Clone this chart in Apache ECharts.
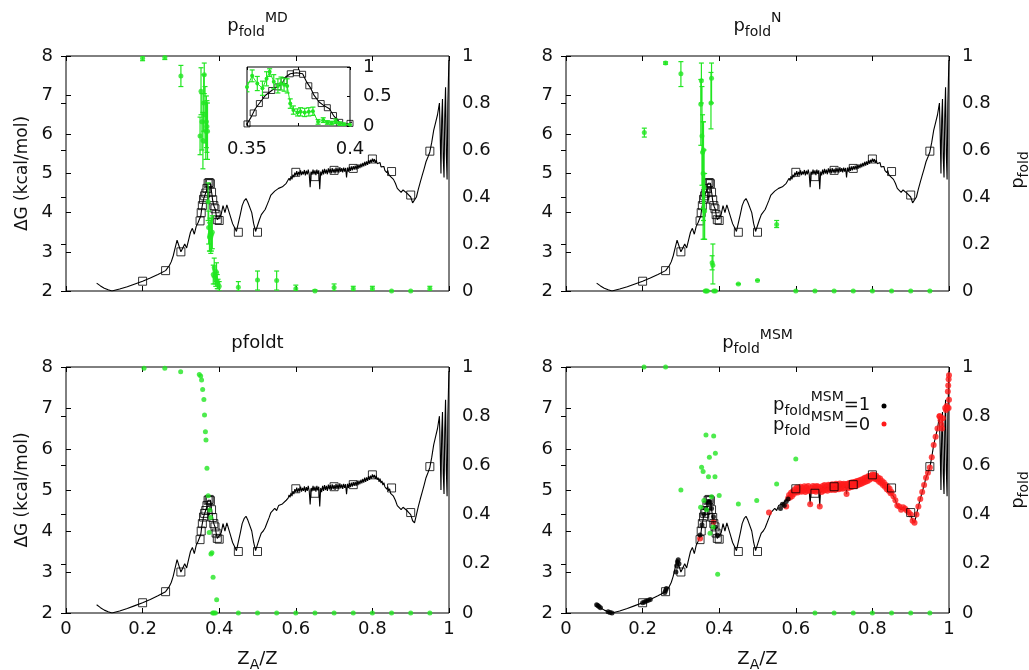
<!DOCTYPE html>
<html>
<head>
<meta charset="utf-8">
<script src="https://cdn.jsdelivr.net/npm/echarts@6/dist/echarts.min.js"></script>
<style>
  html, body { margin: 0; background: #fff; }
  #chart { width: 1029px; height: 670px; }
</style>
</head>
<body>
<div id="chart"></div>
<script>
// free energy profile dG(Z_A/Z), kcal/mol
const dG = [
  [0.08,2.2],[0.09,2.13],[0.1,2.07],[0.11,2.03],[0.12,2.0],[0.14,2.05],[0.16,2.11],[0.18,2.18],[0.2,2.25],
  [0.22,2.33],[0.24,2.42],[0.26,2.52],[0.27,2.65],[0.275,2.75],[0.28,2.9],[0.285,3.1],[0.29,3.3],[0.295,3.15],
  [0.3,3.0],[0.305,3.1],[0.31,3.2],[0.315,3.1],[0.32,3.3],[0.325,3.5],[0.33,3.6],[0.335,3.45],[0.34,3.65],
  [0.345,3.75],[0.35,3.79],[0.352,3.92],[0.354,4.08],[0.3565,4.21],[0.359,4.34],[0.362,4.43],[0.3646,4.5],
  [0.367,4.56],[0.3687,4.69],[0.371,4.75],[0.374,4.77],[0.377,4.75],[0.379,4.59],[0.381,4.47],[0.3825,4.34],
  [0.385,4.21],[0.387,4.15],[0.39,4.08],[0.392,3.95],[0.395,3.82],[0.397,3.78],[0.4,3.8],[0.405,3.95],
  [0.41,4.18],[0.415,4.0],[0.42,4.2],[0.425,4.18],[0.43,3.88],[0.435,3.72],[0.44,3.62],[0.445,3.52],[0.45,3.5],
  [0.455,3.95],[0.46,4.18],[0.465,4.3],[0.47,4.36],[0.475,4.26],[0.48,4.22],[0.485,4.0],[0.49,3.72],
  [0.495,3.52],[0.5,3.5],[0.505,3.82],[0.51,3.95],[0.515,4.0],[0.52,4.08],[0.525,4.2],[0.53,4.32],
  [0.535,4.45],[0.54,4.42],[0.545,4.55],[0.55,4.5],[0.555,4.62],[0.56,4.58],[0.565,4.66],[0.57,4.62],
  [0.575,4.75],[0.58,4.8],[0.5825,4.88],[0.585,4.82],[0.5875,4.93],[0.59,4.85],[0.5925,4.97],[0.595,4.9],
  [0.5975,5.02],[0.6,4.95],[0.6025,5.06],[0.605,4.94],[0.6075,5.04],[0.61,4.97],[0.6125,5.08],[0.615,4.96],
  [0.6175,5.05],[0.62,4.98],[0.6225,5.09],[0.625,4.95],[0.6275,5.07],[0.63,4.98],[0.6325,5.1],[0.635,4.98],
  [0.6375,4.65],[0.64,5.05],[0.6425,4.97],[0.645,5.1],[0.6475,4.98],[0.65,5.08],[0.6525,4.96],[0.655,5.1],
  [0.6575,4.99],[0.66,5.08],[0.6625,4.6],[0.665,5.05],[0.6675,4.95],[0.67,5.1],[0.6725,4.98],[0.675,5.12],
  [0.6775,5.0],[0.68,5.1],[0.6825,4.98],[0.685,5.13],[0.6875,5.02],[0.69,5.12],[0.6925,5.0],[0.695,5.14],
  [0.6975,5.02],[0.7,5.12],[0.7025,5.0],[0.705,5.15],[0.7075,5.03],[0.71,5.13],[0.7125,5.02],[0.715,5.16],
  [0.7175,5.04],[0.72,5.14],[0.7225,5.03],[0.725,5.15],[0.7275,5.05],[0.73,5.14],[0.7325,4.9],[0.735,5.15],
  [0.7375,5.05],[0.74,5.17],[0.7425,5.07],[0.745,5.18],[0.7475,5.08],[0.75,5.19],[0.7525,5.1],[0.755,5.2],
  [0.7575,5.1],[0.76,5.22],[0.7625,5.12],[0.765,5.23],[0.7675,5.14],[0.77,5.25],[0.7725,5.16],[0.775,5.27],
  [0.7775,5.18],[0.78,5.3],[0.7825,5.2],[0.785,5.31],[0.7875,5.22],[0.79,5.34],[0.7925,5.25],[0.795,5.35],
  [0.7975,5.28],[0.8,5.38],[0.8025,5.3],[0.805,5.37],[0.8075,5.27],[0.81,5.35],[0.8125,5.25],[0.815,5.3],
  [0.8175,5.2],[0.82,5.28],[0.8225,5.17],[0.825,5.22],[0.8275,5.12],[0.83,5.18],[0.8325,5.08],[0.835,5.12],
  [0.8375,5.02],[0.84,5.08],[0.8425,4.98],[0.845,5.03],[0.8475,4.92],[0.85,4.95],[0.855,4.85],[0.86,4.75],
  [0.865,4.62],[0.87,4.6],[0.875,4.52],[0.88,4.58],[0.885,4.55],[0.89,4.5],[0.895,4.45],[0.9,4.4],
  [0.905,4.25],[0.91,4.2],[0.915,4.4],[0.92,4.6],[0.925,4.78],[0.93,4.95],[0.935,5.12],[0.94,5.3],
  [0.945,5.42],[0.95,5.55],[0.955,5.8],[0.96,6.1],[0.965,6.3],[0.97,6.5],[0.975,6.8],[0.977,6.0],
  [0.979,5.0],[0.981,6.4],[0.983,6.9],[0.985,5.4],[0.987,4.9],[0.989,6.5],[0.991,7.2],[0.993,5.5],
  [0.995,4.85],[0.997,6.8],[0.999,7.6],[1.0,7.9]
];

// open squares on the profile
const squares = [
  [0.2,2.25],[0.26,2.52],[0.3,3.0],[0.35,3.79],[0.353,4.0],[0.356,4.18],[0.359,4.34],[0.362,4.43],
  [0.365,4.5],[0.368,4.62],[0.371,4.75],[0.374,4.77],[0.377,4.74],[0.38,4.52],[0.383,4.33],[0.386,4.18],
  [0.389,4.1],[0.392,3.95],[0.395,3.82],[0.4,3.8],[0.45,3.5],[0.5,3.5],[0.6,5.03],[0.65,4.92],
  [0.7,5.08],[0.75,5.13],[0.8,5.37],[0.85,5.05],[0.9,4.45],[0.95,5.57]
];

// pfold^MD : [x, p, low, high]
const pMD = [
  [0.2,0.99,0.98,1.0],[0.258,0.994,0.985,1.0],[0.3,0.915,0.87,0.96],
  [0.35,0.66,0.58,0.74],[0.3525,0.85,0.75,0.95],[0.355,0.72,0.6,0.84],[0.3575,0.64,0.52,0.76],
  [0.3595,0.8,0.68,0.92],[0.361,0.92,0.84,0.97],[0.363,0.75,0.63,0.87],[0.365,0.68,0.56,0.8],
  [0.3665,0.72,0.61,0.83],[0.368,0.7,0.59,0.81],[0.3695,0.68,0.56,0.8],[0.371,0.38,0.3,0.46],
  [0.3725,0.27,0.2,0.34],[0.3745,0.23,0.17,0.29],[0.376,0.24,0.17,0.31],[0.378,0.23,0.16,0.3],
  [0.38,0.24,0.17,0.31],[0.382,0.25,0.18,0.32],[0.3845,0.07,0.03,0.11],[0.387,0.1,0.06,0.14],
  [0.389,0.06,0.03,0.09],[0.391,0.05,0.02,0.08],[0.393,0.08,0.04,0.12],[0.395,0.04,0.01,0.07],
  [0.397,0.03,0.01,0.05],[0.4,0.02,0.0,0.04],[0.45,0.016,0.0,0.04],[0.5,0.047,0.004,0.085],
  [0.55,0.045,0.004,0.085],[0.6,0.01,0.0,0.025],[0.65,0.0,0.0,0.005],[0.7,0.015,0.0,0.03],
  [0.75,0.01,0.0,0.02],[0.8,0.01,0.0,0.02],[0.85,0.0,0.0,0.0],[0.9,0.0,0.0,0.0],[0.95,0.01,0.0,0.02]
];

// pfold^N : [x, p, low, high]
const pN = [
  [0.2045,0.674,0.655,0.693],[0.26,0.97,0.965,0.975],[0.3,0.925,0.87,0.976],
  [0.352,0.795,0.62,0.9],[0.3535,0.895,0.8,0.97],[0.355,0.66,0.45,0.87],[0.3565,0.59,0.35,0.75],
  [0.358,0.5,0.22,0.72],[0.359,0.6,0.3,0.72],[0.3605,0.44,0.22,0.6],[0.362,0.34,0.22,0.5],
  [0.3635,0.0,0.0,0.0],[0.366,0.0,0.0,0.0],[0.369,0.0,0.0,0.0],[0.3785,0.8,0.69,0.93],
  [0.38,0.905,0.8,0.97],[0.3815,0.12,0.09,0.15],[0.3835,0.11,0.03,0.2],[0.386,0.0,0.0,0.0],
  [0.39,0.0,0.0,0.0],[0.45,0.03,0.03,0.03],[0.5,0.045,0.045,0.045],[0.55,0.283,0.27,0.3],
  [0.6,0,0,0],[0.65,0,0,0],[0.7,0,0,0],[0.75,0,0,0],[0.8,0,0,0],[0.85,0,0,0],[0.9,0,0,0],[0.95,0,0,0]
];

// pfoldt : [x, p]
const pT = [
  [0.2037,0.995],[0.258,0.995],[0.2994,0.981],[0.348,0.97],[0.3516,0.963],[0.354,0.947],[0.3568,0.909],
  [0.36,0.868],[0.3617,0.805],[0.364,0.737],[0.3655,0.703],[0.368,0.588],[0.3712,0.477],[0.3755,0.419],
  [0.378,0.388],[0.374,0.327],[0.3785,0.24],[0.381,0.245],[0.384,0.145],[0.3934,0.054],[0.383,0],
  [0.386,0],[0.39,0],[0.45,0],[0.5,0],[0.55,0],[0.6,0],[0.65,0],[0.7,0],[0.75,0],[0.8,0],[0.85,0],
  [0.9,0],[0.95,0]
];

// pfold^MSM : [x, p]
const pMSM = [
  [0.2037,1.0],[0.26,1.0],[0.3,0.5],[0.3515,0.43],[0.354,0.592],[0.358,0.575],[0.36,0.457],
  [0.367,0.42],[0.3655,0.724],[0.372,0.554],[0.3743,0.633],[0.376,0.324],[0.38,0.473],[0.3856,0.72],
  [0.384,0.35],[0.39,0.649],[0.389,0.554],[0.396,0.158],[0.4,0.478],[0.45,0.443],[0.498,0.457],
  [0.55,0.524],[0.6,0.626],[0.65,0],[0.7,0],[0.75,0],[0.8,0],[0.85,0],[0.9,0],[0.95,0]
];

// MSM states with pfold^MSM = 1 (black) and = 0 (red), placed on the profile
const msmOne = [
  [0.08,2.2],[0.083,2.18],[0.086,2.16],[0.09,2.13],[0.11,2.03],[0.115,2.01],[0.12,2.0],
  [0.2,2.25],[0.205,2.27],[0.21,2.29],[0.215,2.31],[0.22,2.33],[0.258,2.5],[0.26,2.55],[0.262,2.6],
  [0.287,3.0],[0.289,3.15],[0.291,3.25],[0.293,3.3],[0.295,3.2],[0.35,3.9],[0.355,4.15],[0.36,4.4],
  [0.365,4.55],[0.37,4.72],[0.375,4.72],[0.38,4.55],[0.385,4.35],[0.39,4.1],[0.395,3.9],
  [0.56,4.55],[0.565,4.65],[0.57,4.62],[0.575,4.72],[0.58,4.78]
];
const msmZeroExtra = [
  [0.35,3.82],[0.385,4.22],[0.53,4.45],[0.575,4.6],[0.976,6.8],[0.978,6.7],[0.98,6.6],[0.982,6.5],
  [0.984,6.75],[0.99,7.0],[0.992,6.95],[0.994,7.05],[0.996,7.0],[0.997,7.4],[0.998,7.55],[0.999,7.7],
  [1.0,7.8],[0.999,7.0],[1.0,7.2]
];
const msmZero = dG.filter(p => p[0] >= 0.58 && p[0] <= 0.975).concat(msmZeroExtra);

const GREEN = '#22e622';
const FONT = 'DejaVu Sans';
const INK = '#111';

const grids = [
  { left: 66, top: 56, width: 383, height: 235 },
  { left: 566, top: 56, width: 383, height: 235 },
  { left: 66, top: 367, width: 383, height: 246 },
  { left: 566, top: 367, width: 383, height: 246 }
];
const inset = { left: 247, top: 67, width: 103, height: 59 };

const lbl = (show, margin) => ({ show, margin, fontSize: 18, fontFamily: FONT, color: INK });
const tick = (len) => ({ show: true, inside: true, length: len, lineStyle: { color: '#000', width: 1 } });

const xAxis = [], yAxis = [];
grids.forEach((g, i) => {
  xAxis[i] = { gridIndex: i, type: 'value', min: 0, max: 1, interval: 0.2, position: 'bottom',
    axisLine: { show: false }, splitLine: { show: false }, axisTick: tick(5), axisLabel: lbl(i >= 2, 7) };
  xAxis[4 + i] = { gridIndex: i, type: 'value', min: 0, max: 1, interval: 0.2, position: 'top',
    axisLine: { show: false }, splitLine: { show: false }, axisTick: tick(5), axisLabel: { show: false } };
  yAxis[2 * i] = { gridIndex: i, type: 'value', min: 2, max: 8, interval: 1, position: 'left',
    axisLine: { show: false }, splitLine: { show: false }, axisTick: tick(5), axisLabel: lbl(true, 13) };
  yAxis[2 * i + 1] = { gridIndex: i, type: 'value', min: 0, max: 1, interval: 0.2, position: 'right',
    axisLine: { show: false }, splitLine: { show: false }, axisTick: tick(5), axisLabel: lbl(true, 13) };
});
// inset axes
xAxis[8] = { gridIndex: 4, type: 'value', min: 0.35, max: 0.4, interval: 0.025, position: 'bottom', z: 12,
  axisLine: { show: false }, splitLine: { show: false }, axisTick: tick(3),
  axisLabel: Object.assign(lbl(true, 14), { formatter: v => Math.abs(v - 0.375) < 1e-6 ? '' : String(+v.toFixed(3)) }) };
xAxis[9] = { gridIndex: 4, type: 'value', min: 0.35, max: 0.4, interval: 0.025, position: 'top', z: 12,
  axisLine: { show: false }, splitLine: { show: false }, axisTick: tick(3), axisLabel: { show: false } };
yAxis[8] = { gridIndex: 4, type: 'value', min: 3.75, max: 4.88, position: 'left', z: 12,
  axisLine: { show: false }, splitLine: { show: false }, axisTick: { show: false }, axisLabel: { show: false } };
yAxis[9] = { gridIndex: 4, type: 'value', min: 0, max: 1, interval: 0.5, position: 'right', z: 12,
  axisLine: { show: false }, splitLine: { show: false }, axisTick: tick(3), axisLabel: lbl(true, 13) };

function errBars(data, xi, yi, z) {
  return {
    type: 'custom', xAxisIndex: xi, yAxisIndex: yi, data, z, clip: true, silent: true,
    encode: { x: 0, y: [1, 2, 3] },
    renderItem(params, api) {
      const x = api.value(0);
      const a = api.coord([x, api.value(2)]);
      const b = api.coord([x, api.value(3)]);
      const st = { stroke: GREEN, lineWidth: 1.2 };
      return { type: 'group', children: [
        { type: 'line', shape: { x1: a[0], y1: a[1], x2: b[0], y2: b[1] }, style: st },
        { type: 'line', shape: { x1: a[0] - 2.5, y1: a[1], x2: a[0] + 2.5, y2: a[1] }, style: st },
        { type: 'line', shape: { x1: b[0] - 2.5, y1: b[1], x2: b[0] + 2.5, y2: b[1] }, style: st }
      ] };
    }
  };
}
const curve = (xi, yi, z) => ({ type: 'line', xAxisIndex: xi, yAxisIndex: yi, data: dG, symbol: 'none',
  lineStyle: { color: '#000', width: 1.1 }, z, silent: true });
const boxes = (xi, yi, size, z) => ({ type: 'scatter', xAxisIndex: xi, yAxisIndex: yi, data: squares,
  symbol: 'rect', symbolSize: size, itemStyle: { color: 'rgba(0,0,0,0)', borderColor: '#000', borderWidth: 1 },
  z, silent: true });
const dots = (data, xi, yi, color, size, z) => ({ type: 'scatter', xAxisIndex: xi, yAxisIndex: yi,
  data: data.map(r => [r[0], r[1]]), symbolSize: size, itemStyle: { color }, z, silent: true });

const series = [];
// A
series.push(curve(0, 0, 2), boxes(0, 0, 8, 4), errBars(pMD, 0, 1, 5), dots(pMD, 0, 1, GREEN, 5, 6));
// B
series.push(curve(1, 2, 2), boxes(1, 2, 8, 4), errBars(pN, 1, 3, 5), dots(pN, 1, 3, GREEN, 5, 6));
// C
series.push(curve(2, 4, 2), boxes(2, 4, 8, 4), dots(pT, 2, 5, GREEN, 5, 6));
// D
series.push(curve(3, 6, 2), dots(msmZero, 3, 6, '#ff1a1a', 6, 3), dots(msmOne, 3, 6, '#000', 5, 3),
  boxes(3, 6, 8, 4), dots(pMSM, 3, 7, GREEN, 5, 6));
// inset of A
series.push(curve(8, 8, 13), boxes(8, 8, 6, 14), errBars(pMD, 8, 9, 15),
  { type: 'line', xAxisIndex: 8, yAxisIndex: 9, data: pMD.map(r => [r[0], r[1]]), symbol: 'circle',
    symbolSize: 4, showAllSymbol: true, lineStyle: { color: GREEN, width: 1 }, itemStyle: { color: GREEN },
    z: 16, clip: true, silent: true });

// text helpers (sub/superscripts)
const ctx = document.createElement('canvas').getContext('2d');
const tw = (s, size) => { ctx.font = size + 'px "' + FONT + '"'; return ctx.measureText(s).width; };
function scripted(cx, base, parts, rot) {
  const total = parts.reduce((s, p) => s + tw(p[0], p[1]), 0);
  let x = -total / 2;
  const children = parts.map(([t, size, shift]) => {
    const el = { type: 'text', x, y: shift - 0.346 * size,
      style: { text: t, font: size + 'px "' + FONT + '"', fill: INK,
        textAlign: 'left', align: 'left', textVerticalAlign: 'middle', verticalAlign: 'middle' } };
    x += tw(t, size);
    return el;
  });
  return { type: 'group', x: cx, y: base, rotation: rot || 0, children, silent: true };
}
function leftScripted(x0, base, parts) {
  const total = parts.reduce((s, p) => s + tw(p[0], p[1]), 0);
  return scripted(x0 + total / 2, base, parts);
}
const rotText = (x, y, t, size) => ({ type: 'text', x, y, rotation: Math.PI / 2, silent: true,
  style: { text: t, font: size + 'px "' + FONT + '"', fill: INK,
    textAlign: 'center', align: 'center', textVerticalAlign: 'middle', verticalAlign: 'middle' } });

const graphic = [
  scripted(257.5, 33, [['p', 18, 0], ['fold', 14, 4], ['MD', 14, -10]]),
  scripted(757.5, 33, [['p', 18, 0], ['fold', 14, 4], ['N', 14, -10]]),
  scripted(257.5, 350, [['pfoldt', 18, 0]]),
  scripted(757.5, 350, [['p', 18, 0], ['fold', 14, 4], ['MSM', 14, -10]]),
  rotText(23, 173.5, 'ΔG (kcal/mol)', 17),
  rotText(23, 490, 'ΔG (kcal/mol)', 17),
  scripted(1025, 170, [['p', 18, 0], ['fold', 14, 4]], Math.PI / 2),
  scripted(1025, 490, [['p', 18, 0], ['fold', 14, 4]], Math.PI / 2),
  scripted(257.5, 666, [['Z', 18, 0], ['A', 14, 4], ['/Z', 18, 0]]),
  scripted(757.5, 666, [['Z', 18, 0], ['A', 14, 4], ['/Z', 18, 0]]),
  leftScripted(773, 412, [['p', 18, 0], ['fold', 14, 4], ['MSM', 14, -10], ['=1', 18, 0]]),
  leftScripted(773, 432, [['p', 18, 0], ['fold', 14, 4], ['MSM', 14, -10], ['=0', 18, 0]]),
  { type: 'circle', shape: { cx: 884, cy: 406, r: 2.5 }, style: { fill: '#000' }, silent: true },
  { type: 'circle', shape: { cx: 884, cy: 424, r: 2.5 }, style: { fill: '#ff1a1a' }, silent: true }
];

const chart = echarts.init(document.getElementById('chart'), null, { renderer: 'canvas' });
chart.setOption({
  animation: false,
  backgroundColor: '#fff',
  textStyle: { fontFamily: FONT },
  grid: grids.map(g => Object.assign({ show: true, borderColor: '#000', borderWidth: 1,
    backgroundColor: 'rgba(0,0,0,0)', containLabel: false, outerBoundsMode: 'none', z: 0 }, g))
    .concat([Object.assign({ show: true, borderColor: '#000', borderWidth: 1, backgroundColor: '#fff',
      containLabel: false, outerBoundsMode: 'none', z: 10 }, inset)]),
  xAxis, yAxis, series, graphic
});
</script>
</body>
</html>
